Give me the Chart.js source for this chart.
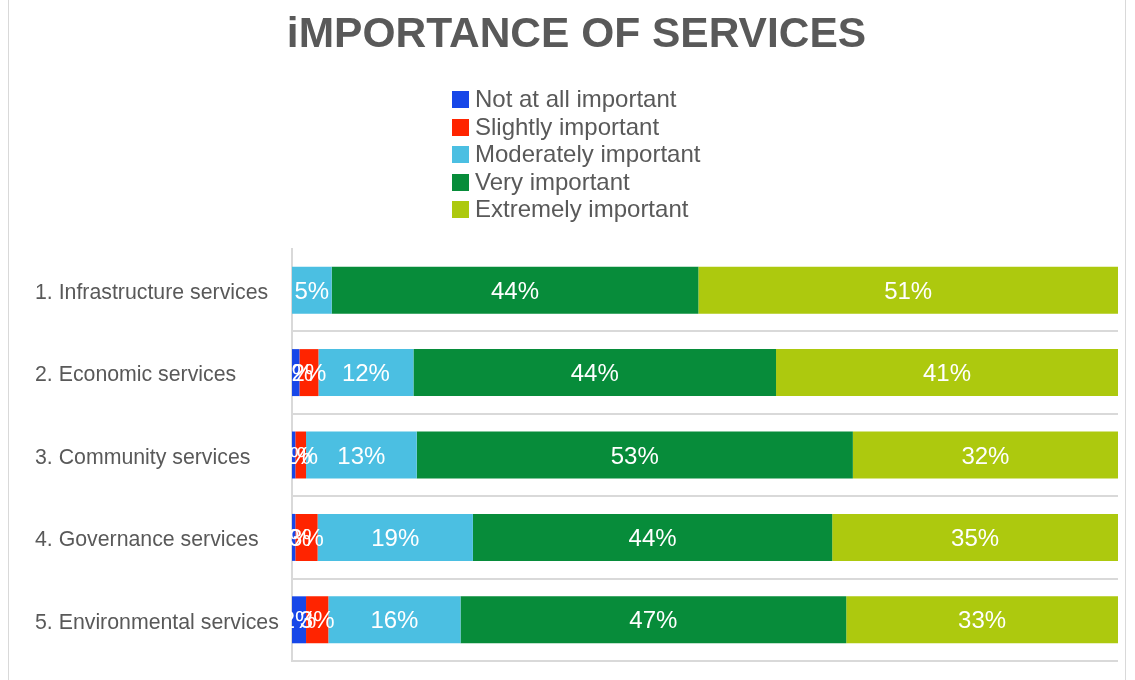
<!DOCTYPE html>
<html>
<head>
<meta charset="utf-8">
<title>Importance of services</title>
<script src="https://cdn.jsdelivr.net/npm/chart.js@4"></script>
<style>
  html, body { margin: 0; padding: 0; background: #fff; }
  #wrap { position: relative; width: 1135px; height: 680px; }
  #frame { position: absolute; left: 8px; top: -2px; width: 1118px; height: 690px; border: 1px solid #d9d9d9; box-sizing: border-box; }
  #legend { position: absolute; left: 452px; top: 85px; font-family: "Liberation Sans", Arial, sans-serif; font-size: 24px; color: #595959; }
  #legend div { height: 27.5px; line-height: 27.5px; white-space: nowrap; }
  #legend span { display: inline-block; width: 17px; height: 17px; margin-right: 6px; vertical-align: -1px; }
</style>
</head>
<body>
<div id="wrap">
  <div id="frame"></div>
  <canvas id="chart" width="1135" height="680"></canvas>
  <div id="legend"></div>
</div>
<script>
// categories and share of answers per category (%)
const categories = [
  "1. Infrastructure services",
  "2. Economic services",
  "3. Community services",
  "4. Governance services",
  "5. Environmental services"
];
const seriesNames = ["Not at all important", "Slightly important", "Moderately important", "Very important", "Extremely important"];
const seriesColors = ["#1747e8", "#ff2400", "#4bbfe2", "#078c3a", "#adc90e"];

const notAtAll   = [0,    0.9,  0.4,  0.4,  1.7];
const slightly   = [0,    2.3,  1.3,  2.7,  2.7];
const moderately = [4.8,  11.5, 13.4, 18.8, 16.0];
const very       = [44.4, 43.9, 52.8, 43.5, 46.7];
const extremely  = [50.8, 41.4, 32.1, 34.6, 32.9];

const seriesValues = [notAtAll, slightly, moderately, very, extremely];

// white percentage labels in the middle of each segment
const barLabels = {
  id: "barLabels",
  afterDatasetsDraw(chart) {
    const ctx = chart.ctx;
    ctx.save();
    ctx.font = "24px 'Liberation Sans', Arial, sans-serif";
    ctx.fillStyle = "#ffffff";
    ctx.textAlign = "center";
    ctx.textBaseline = "middle";
    chart.data.datasets.forEach(function(ds, i) {
      const meta = chart.getDatasetMeta(i);
      meta.data.forEach(function(bar, j) {
        const v = ds.data[j];
        if (!v) return;
        const p = bar.getProps(["x", "y", "base"], true);
        ctx.fillText(Math.round(v) + "%", (p.x + p.base) / 2, p.y + 2);
      });
    });
    ctx.restore();
  }
};

const chart = new Chart(document.getElementById("chart"), {
  type: "bar",
  data: {
    labels: categories,
    datasets: seriesNames.map(function(name, i) {
      return {
        label: name,
        data: seriesValues[i],
        backgroundColor: seriesColors[i],
        borderWidth: 0,
        categoryPercentage: 1,
        barPercentage: 0.57
      };
    })
  },
  options: {
    indexAxis: "y",
    responsive: false,
    animation: false,
    layout: { padding: { left: 35, right: 17, top: 0, bottom: 19 } },
    plugins: {
      legend: { display: false },
      tooltip: { enabled: false },
      title: {
        display: true,
        text: "iMPORTANCE OF SERVICES",
        color: "#595959",
        font: { family: "'Liberation Sans', Arial, sans-serif", size: 42.5, weight: "bold" },
        padding: { top: 10, bottom: 188 }
      }
    },
    scales: {
      x: {
        stacked: true,
        min: 0,
        max: 100,
        display: false
      },
      y: {
        stacked: true,
        afterFit(scale) { scale.width = 257; },
        border: { color: "#d9d9d9", width: 2 },
        grid: {
          offset: true,
          drawTicks: false,
          lineWidth: 2,
          color: function(c) { return c.index === 0 ? "rgba(0,0,0,0)" : "#d9d9d9"; }
        },
        ticks: {
          crossAlign: "far",
          padding: 0,
          labelOffset: 3,
          color: "#595959",
          font: { family: "'Liberation Sans', Arial, sans-serif", size: 21.3 }
        }
      }
    }
  },
  plugins: [barLabels]
});

// legend as a single column above the plot
const $legend = document.getElementById("legend");
seriesNames.forEach(function(name, i) {
  const row = document.createElement("div");
  const box = document.createElement("span");
  box.style.background = seriesColors[i];
  row.appendChild(box);
  row.appendChild(document.createTextNode(name));
  $legend.appendChild(row);
});
</script>
</body>
</html>
